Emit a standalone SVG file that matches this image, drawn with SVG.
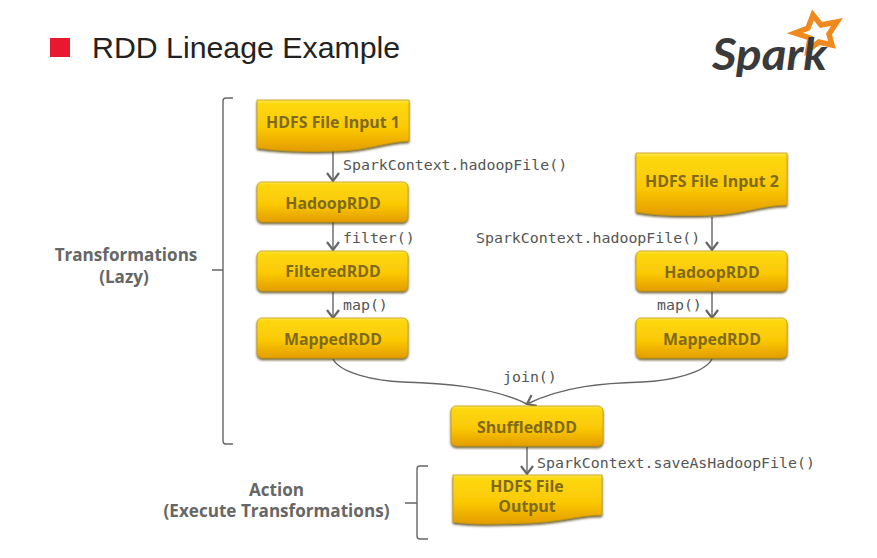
<svg xmlns="http://www.w3.org/2000/svg" width="877" height="558" viewBox="0 0 877 558">
<style>
.box{fill:url(#gold);stroke:#c79a08;stroke-width:.8;filter:url(#sh)}
.lbl{font:bold 15.9px "Open Sans","Liberation Sans",sans-serif;fill:#7f6a1c;text-anchor:middle}
.code{font:14.9px "DejaVu Sans Mono","Liberation Mono",monospace;fill:#555}
.side{font:bold 17.1px "Open Sans","Liberation Sans",sans-serif;fill:#666;text-anchor:middle}
.conn{fill:none;stroke:#666;stroke-width:1.4}
.brace{fill:none;stroke:#666;stroke-width:1.4}
</style>
<defs>
<linearGradient id="gold" x1="0" y1="0" x2="0" y2="1">
<stop offset="0" stop-color="#ffe95a"/><stop offset=".07" stop-color="#fdd80f"/><stop offset=".55" stop-color="#fbc905"/><stop offset="1" stop-color="#e49c03"/>
</linearGradient>
<filter id="sh" x="-5%" y="-5%" width="110%" height="120%"><feDropShadow dx="0" dy="1.8" stdDeviation="1" flood-color="#4a3800" flood-opacity=".8"/></filter>
<marker id="arr" markerWidth="14" markerHeight="14" refX="10" refY="6.5" orient="auto" markerUnits="userSpaceOnUse"><path d="M2 .5 10 6.500 2 12.500" fill="none" stroke="#666" stroke-width="2.200"/></marker>
</defs>
<rect width="877" height="558" fill="#fff"/>
<rect id="bullet" x="50" y="38" width="20" height="19" fill="#e8182f"/>
<text id="title" x="92" y="58" font-family="'Liberation Sans',sans-serif" font-size="30.3" fill="#222">RDD Lineage Example</text>
<g id="spark-logo">
<path d="M813 15 821 25 837 22 829 34 832 45 819 42 808 50 810 38 795 33 808 28Z" fill="none" stroke="#ef8a1e" stroke-width="5.500" stroke-linejoin="miter"/>
<text x="712" y="70" font-family="Lato,'Open Sans',sans-serif" font-size="44" font-weight="700" font-style="italic" fill="#3a3a3a" textLength="115" lengthAdjust="spacingAndGlyphs">Spark</text>
</g>
<g id="connectors">
<path class="conn" marker-end="url(#arr)" d="M333 150V181"/>
<path class="conn" marker-end="url(#arr)" d="M333 222V250"/>
<path class="conn" marker-end="url(#arr)" d="M333 292V318"/>
<path class="conn" marker-end="url(#arr)" d="M712 217V250"/>
<path class="conn" marker-end="url(#arr)" d="M712 292V318"/>
<path class="conn" d="M333 359C340 373 375 381 403 382C440 383 490 386 527 404"/>
<path class="conn" marker-end="url(#arr)" d="M712 359C705 373 670 381 642 382C605 383 564 386 527 404"/>
<path class="conn" marker-end="url(#arr)" d="M527 447V474"/>
</g>
<g id="labels" class="code">
<text class="code" x="343" y="170">SparkContext.hadoopFile()</text>
<text class="code" x="343" y="243">filter()</text>
<text class="code" x="343" y="310">map()</text>
<text class="code" x="476" y="243">SparkContext.hadoopFile()</text>
<text class="code" x="657" y="310">map()</text>
<text class="code" x="503" y="382">join()</text>
<text class="code" x="537" y="468">SparkContext.saveAsHadoopFile()</text>
</g>
<g id="input1"><path class="box" d="M257 100H409V141C385 142 365 151 335 151C305 152 280 151 257 148Z"/><text class="lbl" x="333" y="128">HDFS File Input 1</text></g>
<g id="hadoop1"><rect class="box" x="257" y="182" width="151" height="40" rx="5"/><text class="lbl" x="333" y="209">HadoopRDD</text></g>
<g id="filtered"><rect class="box" x="257" y="251" width="151" height="40" rx="5"/><text class="lbl" x="333" y="277">FilteredRDD</text></g>
<g id="mapped1"><rect class="box" x="257" y="318" width="151" height="40" rx="5"/><text class="lbl" x="333" y="345">MappedRDD</text></g>
<g id="input2"><path class="box" d="M636 153H787V205C763 205 743 214 713 215C683 216 658 216 636 212Z"/><text class="lbl" x="712" y="187">HDFS File Input 2</text></g>
<g id="hadoop2"><rect class="box" x="636" y="251" width="151" height="40" rx="5"/><text class="lbl" x="712" y="278">HadoopRDD</text></g>
<g id="mapped2"><rect class="box" x="636" y="318" width="151" height="40" rx="5"/><text class="lbl" x="712" y="345">MappedRDD</text></g>
<g id="shuffled"><rect class="box" x="451" y="406" width="152" height="40" rx="5"/><text class="lbl" x="527" y="433">ShuffledRDD</text></g>
<g id="output"><path class="box" d="M453 475H602V515C580 515 560 522 530 523C500 524 475 525 453 522Z"/><text class="lbl" x="527" y="492">HDFS File</text><text class="lbl" x="527" y="512">Output</text></g>
<g id="brace-transformations">
<path class="brace" d="M233 98H226Q223 98 223 101V441Q223 444 226 444H233M212 270H223"/>
<text class="side" x="126" y="261">Transformations</text><text class="side" x="124" y="283">(Lazy)</text>
</g>
<g id="brace-action">
<path class="brace" d="M428 466H420Q417 466 417 469V536Q417 539 420 539H428M405 503H417"/>
<text class="side" x="276.500" y="496">Action</text><text class="side" x="276.500" y="517">(Execute Transformations)</text>
</g>
</svg>
